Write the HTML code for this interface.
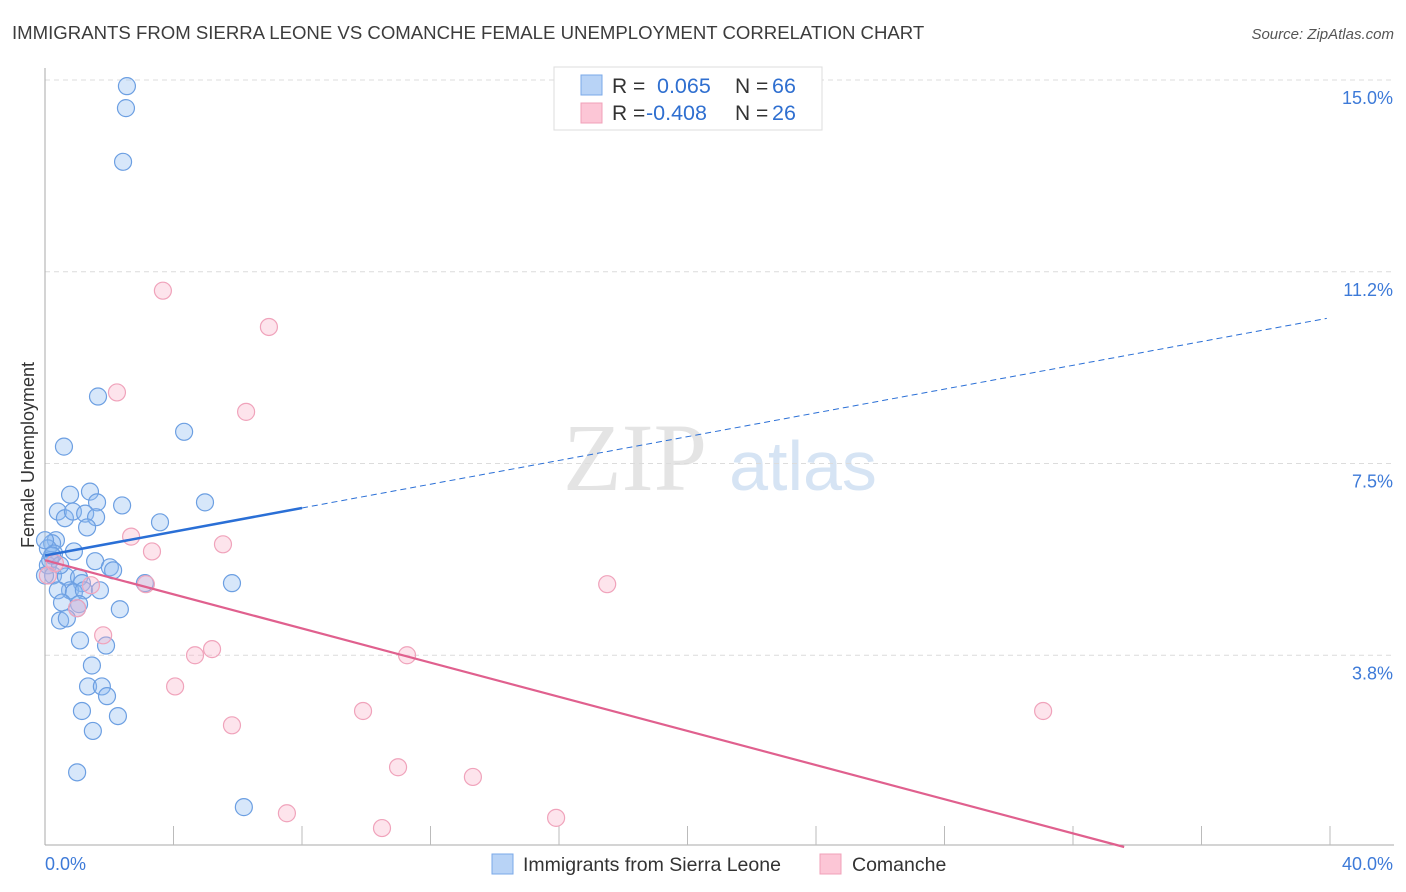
<!DOCTYPE html>
<html><head><meta charset="utf-8">
<style>
body{margin:0;background:#fff;font-family:"Liberation Sans",sans-serif;}
svg{display:block}
</style></head>
<body>
<svg id="chart" width="1406" height="892" viewBox="0 0 1406 892">
  <text x="12" y="39" font-size="18.6" fill="#3c3c3c">IMMIGRANTS FROM SIERRA LEONE VS COMANCHE FEMALE UNEMPLOYMENT CORRELATION CHART</text>
  <text x="1394" y="39" font-size="15" fill="#555" font-style="italic" text-anchor="end">Source: ZipAtlas.com</text>
  <g>
    <text x="635" y="490" font-size="96" fill="#e4e4e4" font-family="Liberation Serif,serif" text-anchor="middle">ZIP</text>
    <text x="803" y="490" font-size="70" fill="#d6e4f4" text-anchor="middle">atlas</text>
  </g>
  <g id="grid"></g>
  <g id="axes"></g>
  <g id="marks"></g>
  <text transform="translate(34,455) rotate(-90)" font-size="18" fill="#333" text-anchor="middle">Female Unemployment</text>
  <g>
    <rect x="554" y="67" width="268" height="63" fill="#fff" stroke="#ddd"/>
    <rect x="581" y="75" width="21" height="20" fill="#b8d3f6" stroke="#7aa8e8"/>
    <text x="612" y="93" font-size="21" fill="#333">R = </text>
    <text x="657" y="93" font-size="21.5" fill="#2f6fd0">0.065</text>
    <text x="735" y="93" font-size="21" fill="#333">N = </text>
    <text x="772" y="93" font-size="21.5" fill="#2f6fd0">66</text>
    <rect x="581" y="103" width="21" height="20" fill="#fcc6d6" stroke="#f0a0b8"/>
    <text x="612" y="120" font-size="21" fill="#333">R = </text>
    <text x="646" y="120" font-size="21.5" fill="#2f6fd0">-0.408</text>
    <text x="735" y="120" font-size="21" fill="#333">N = </text>
    <text x="772" y="120" font-size="21.5" fill="#2f6fd0">26</text>
  </g>
  <g>
    <rect x="492" y="854" width="21" height="20" fill="#b8d3f6" stroke="#7aa8e8"/>
    <text x="523" y="871" font-size="19.5" fill="#333">Immigrants from Sierra Leone</text>
    <rect x="820" y="854" width="21" height="20" fill="#fcc6d6" stroke="#f0a0b8"/>
    <text x="852" y="871" font-size="19.5" fill="#333">Comanche</text>
  </g>
</svg>
<script>
const yTicks=[3.75,7.5,11.25,15];
const yTickLabels=["3.8%","7.5%","11.2%","15.0%"];
const xTickLabels=["0.0%","40.0%"];
const blueX=[2.55,2.52,2.43,1.65,4.33,0.59,0.78,1.40,1.62,2.40,4.98,0.40,0.62,0.87,1.25,1.59,1.31,3.58,0.34,0.22,0.09,0.28,0.90,1.56,2.02,2.12,0,0.09,0.25,0.65,1.06,1.15,0.78,0.40,0.90,1.21,0.53,1.06,1.00,2.33,5.82,3.11,0.47,0.68,1.09,1.90,1.46,1.34,1.77,1.93,1.15,2.27,1.49,1.00,6.19,0.16,0.47,1.71,0,0.22];
const blueY=[14.88,14.45,13.40,8.81,8.12,7.83,6.89,6.95,6.74,6.68,6.74,6.56,6.43,6.56,6.52,6.45,6.25,6.35,6.00,5.94,5.84,5.74,5.78,5.59,5.47,5.41,6.00,5.51,5.31,5.29,5.27,5.16,5.02,5.02,4.98,5.02,4.78,4.75,4.67,4.65,5.16,5.16,4.43,4.47,4.04,3.94,3.55,3.14,3.14,2.95,2.66,2.56,2.27,1.46,0.78,5.61,5.51,5.02,5.31,5.70];
const pinkX=[3.67,6.97,2.24,6.26,2.68,5.54,3.33,0.31,0.09,1.43,3.14,1.00,17.50,1.81,5.20,4.67,11.27,4.05,9.90,31.07,5.82,10.99,13.32,7.53,10.49,15.91];
const pinkY=[10.88,10.17,8.89,8.51,6.07,5.92,5.78,5.55,5.31,5.12,5.14,4.67,5.14,4.14,3.87,3.75,3.75,3.14,2.66,2.66,2.38,1.56,1.37,0.66,0.37,0.57];
const blueTrend=[5.70,10.35];
const pinkTrend=[5.61,-0.167];
const NS="http://www.w3.org/2000/svg";
const X0=45,X1=1330,Y0=847,Ypx=80;
const sx=v=>X0+(v/40)*(X1-X0);
const sy=v=>Y0-(v/15)*(Y0-Ypx);
function mk(tag,attrs,parent){const e=document.createElementNS(NS,tag);for(const k in attrs)e.setAttribute(k,attrs[k]);parent.appendChild(e);return e;}
const grid=document.getElementById('grid'),axes=document.getElementById('axes'),marks=document.getElementById('marks');
yTicks.forEach((t,i)=>{
  const l=mk('line',{x1:X0,x2:1394,y1:sy(t),y2:sy(t),stroke:'#dcdcdc','stroke-dasharray':'5,4'},grid);
  
  
  const tx=mk('text',{x:1393,y:sy(t)+24,'font-size':18,fill:'#3d7ad8','text-anchor':'end'},axes);
  tx.textContent=yTickLabels[i];
  
  
});
const ax=mk('line',{x1:X0,x2:X0,y1:68,y2:845,stroke:'#aaa'},axes);


const bx=mk('line',{x1:X0,x2:1394,y1:845,y2:845,stroke:'#aaa'},axes);


for(let i=1;i<=10;i++){
  const t=mk('line',{x1:sx(i*4),x2:sx(i*4),y1:826,y2:845,stroke:'#bbb'},axes);
  
  
}
[[0,'start',45],[40,'end',1393]].forEach((d,i)=>{
  const tx=mk('text',{x:d[2],y:870,'font-size':18,fill:'#3d7ad8','text-anchor':d[1]},axes);
  tx.textContent=xTickLabels[i];
  
  
});
blueX.forEach((x,i)=>{
  const c=mk('circle',{cx:sx(x),cy:sy(blueY[i]),r:8.5,fill:'rgba(140,185,240,0.35)',stroke:'#6c9fe2','stroke-width':1.2},marks);
  
  
});
pinkX.forEach((x,i)=>{
  const c=mk('circle',{cx:sx(x),cy:sy(pinkY[i]),r:8.5,fill:'rgba(248,178,200,0.35)',stroke:'#f0a3bb','stroke-width':1.2},marks);
  
  
});
const by=x=>blueTrend[0]+(blueTrend[1]-blueTrend[0])*x/40;
const b1=mk('line',{x1:sx(0),y1:sy(by(0)),x2:sx(8),y2:sy(by(8)),stroke:'#2a6fd6','stroke-width':2.5},marks);


const b2=mk('line',{x1:sx(8),y1:sy(by(8)),x2:sx(39.9),y2:sy(by(39.9)),stroke:'#2a6fd6','stroke-width':1,'stroke-dasharray':'6,4'},marks);


const xEnd=Math.min(40,-pinkTrend[0]/pinkTrend[1]);
const p1=mk('line',{x1:sx(0),y1:sy(pinkTrend[0]),x2:sx(xEnd),y2:sy(pinkTrend[0]+pinkTrend[1]*xEnd),stroke:'#e0608e','stroke-width':2.2},marks);


</script>
</body></html>
